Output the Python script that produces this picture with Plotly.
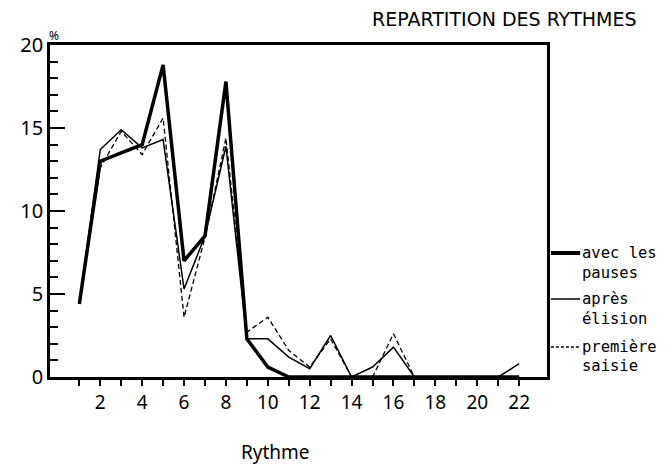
import plotly.graph_objects as go

# Rhythm categories 1..22, percentages
rythme = list(range(1, 23))
avec_pauses = [4.4, 13.0, 13.5, 14.0, 18.8, 7.0, 8.5, 17.8, 2.3, 0.6, 0, 0,
               0, 0, 0, 0, 0, 0, 0, 0, 0, 0]
apres_elision = [4.4, 13.7, 14.9, 13.8, 14.3, 5.3, 8.5, 13.9, 2.3, 2.3, 1.2, 0.5,
                 2.5, 0, 0.6, 1.8, 0, 0, 0, 0, 0, 0.8]
premiere_saisie = [4.4, 12.6, 14.8, 13.4, 15.6, 3.6, 8.4, 14.4, 2.7, 3.6, 1.6, 0.6,
                   2.3, 0, 0, 2.6, 0, 0, 0, 0, 0, 0]

x_tickvals = rythme
x_ticktext = [str(v) if v % 2 == 0 else "" for v in rythme]

SANS = "Noto Sans"
MONO = "DejaVu Sans Mono"

# plot area in window pixels (the page body adds an 8px margin)
L, R, T, B = 37, 547, 45, 377
W, H = 667, 464
OFF = 8


def px(x):
    return (x - L) / (R - L)


def py(y):
    return (B - y) / (B - T)


fig = go.Figure()

fig.add_trace(go.Scatter(x=rythme, y=premiere_saisie, mode="lines",
                         line=dict(color="black", width=1.3, dash="5px,3px"),
                         name="première saisie"))
fig.add_trace(go.Scatter(x=rythme, y=apres_elision, mode="lines",
                         line=dict(color="black", width=1.5),
                         name="après élision"))
fig.add_trace(go.Scatter(x=rythme, y=avec_pauses, mode="lines",
                         line=dict(color="black", width=3.5),
                         name="avec les pauses"))

# legend drawn by hand, like the original
legend_rows = [
    (253, dict(width=4), ["avec les", "pauses"], [253, 273]),
    (299, dict(width=1.5), ["après", "élision"], [299, 319]),
    (347, dict(width=1.3, dash="3px,2px"), ["première", "saisie"], [347, 366]),
]
for ly, lstyle, texts, tys in legend_rows:
    fig.add_shape(type="line", xref="paper", yref="paper",
                  x0=px(551), x1=px(581), y0=py(ly), y1=py(ly),
                  line=dict(color="black", **lstyle))
    for t, ty in zip(texts, tys):
        fig.add_annotation(text=t, xref="paper", yref="paper",
                           x=px(581), y=py(ty), xanchor="left", yanchor="middle",
                           showarrow=False, font=dict(family=MONO, size=15.5, color="black"))

fig.add_annotation(text="REPARTITION DES RYTHMES", xref="paper", yref="paper",
                   x=px(641), y=py(19), xanchor="right", yanchor="middle",
                   showarrow=False, font=dict(family="DejaVu Sans", size=19, color="black"))
fig.add_annotation(text="Rythme", xref="paper", yref="paper",
                   x=px(268), y=py(452), xanchor="center", yanchor="middle",
                   showarrow=False, font=dict(family=SANS, size=19, color="black"))
fig.add_annotation(text="%", xref="paper", yref="paper",
                   x=px(41), y=py(35), xanchor="center", yanchor="middle",
                   showarrow=False, font=dict(family=SANS, size=12, color="black"))

fig.update_layout(
    width=W - OFF, height=H - OFF,
    margin=dict(l=L - OFF, r=W - R, t=T - OFF, b=H - B),
    paper_bgcolor="white", plot_bgcolor="white",
    showlegend=False,
    xaxis=dict(range=[-0.4, 23.33], tickmode="array", tickvals=x_tickvals,
               ticktext=x_ticktext, ticks="outside", ticklen=6, tickwidth=1.5,
               tickcolor="black", showgrid=False, zeroline=False,
               showline=True, linecolor="black", linewidth=3, mirror=True,
               tickfont=dict(family=SANS, size=19, color="black")),
    yaxis=dict(range=[0, 20], tickmode="linear", tick0=0, dtick=5,
               ticks="inside", ticklen=15, tickwidth=2, tickcolor="black",
               minor=dict(dtick=1, ticks="inside", ticklen=8, tickwidth=1.5,
                          tickcolor="black"),
               showgrid=False, zeroline=False,
               showline=True, linecolor="black", linewidth=2.5, mirror=True,
               tickfont=dict(family=SANS, size=20, color="black")),
)

fig.write_html("out.html")
